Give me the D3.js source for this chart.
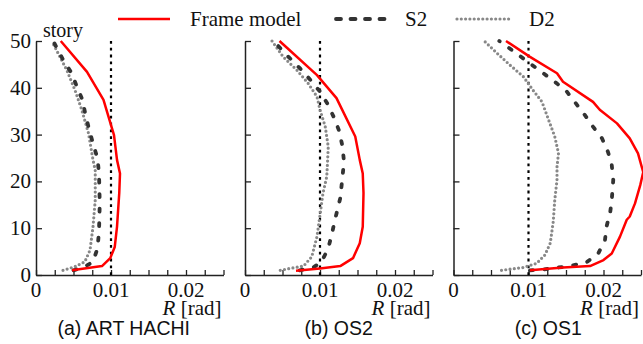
<!DOCTYPE html>
<html><head><meta charset="utf-8">
<script src="https://cdn.jsdelivr.net/npm/d3@7"></script>
<style>body{margin:0;background:#fff}</style>
</head><body>
<svg id="c" width="643" height="344"></svg>
<script>
// ---- data: [R (rad), story] ----
const panelTitles = ["(a) ART HACHI", "(b) OS2", "(c) OS1"];
const seriesNames = ["Frame model", "S2", "D2"];
const yTicks = [0, 10, 20, 30, 40, 50];
const xTickLabels = [0, 0.01, 0.02];
const limitR = 0.01;

const frameA = [[0.0048,1.0],[0.0088,1.9],[0.0099,3.6],[0.0105,6],[0.0108,10.3],[0.0111,17.5],[0.0112,21.7],[0.0108,24.6],[0.0104,29.9],[0.0090,37.4],[0.0068,43.4],[0.0033,50]];
const s2A = [[0.0050,1.0],[0.0063,1.6],[0.0076,2.8],[0.0082,5.7],[0.0084,9.3],[0.0085,15.3],[0.0084,21.7],[0.0082,24.9],[0.0076,28.1],[0.0071,31],[0.0066,34.2],[0.0062,37.4],[0.0055,40],[0.0048,43],[0.0036,46],[0.0023,50]];
const d2A = [[0.0036,1.0],[0.0052,1.8],[0.0065,2.8],[0.0072,5.3],[0.0076,10.3],[0.0079,16],[0.0079,22.4],[0.0076,24.6],[0.0070,30.3],[0.0061,35.3],[0.0052,39.5],[0.0041,43.8],[0.0032,46.6],[0.0021,50]];

const frameB = [[0.0068,0.9],[0.0100,1.4],[0.0127,1.9],[0.0144,3.6],[0.0153,6.8],[0.0157,10.3],[0.0158,17.5],[0.0157,21.7],[0.0153,24.6],[0.0147,29.6],[0.0122,37.8],[0.0096,42.7],[0.0046,50]];
const s2B = [[0.0073,1.0],[0.0091,1.6],[0.0102,2.8],[0.0111,5.7],[0.0116,8.9],[0.0120,11.8],[0.0127,16.4],[0.0130,21],[0.0132,24.2],[0.0130,27.4],[0.0126,30.6],[0.0119,33.5],[0.0111,36.3],[0.0100,39.2],[0.0087,41.7],[0.0073,44.2],[0.0058,46.6],[0.0038,50]];
const d2B = [[0.0047,1.0],[0.0060,1.4],[0.0078,1.9],[0.0089,3.9],[0.0096,8.2],[0.0100,12.8],[0.0104,17.5],[0.0109,21],[0.0110,24],[0.0111,27.4],[0.0107,31.7],[0.0100,35.3],[0.0096,38.1],[0.0084,41],[0.0069,43.8],[0.0051,46.6],[0.0036,50]];

const frameC = [[0.0102,1.0],[0.0146,1.6],[0.0182,1.9],[0.0200,3.2],[0.0211,4.6],[0.0222,8.2],[0.0231,11.8],[0.0235,12.5],[0.0242,15.3],[0.0249,19.2],[0.0253,22],[0.0251,23.1],[0.0246,26],[0.0235,29.2],[0.0218,32.4],[0.0195,35.3],[0.0186,37],[0.0146,41.3],[0.0138,43.1],[0.0102,46.6],[0.0070,50]];
const s2C = [[0.0102,1.0],[0.0120,1.2],[0.0155,1.9],[0.0178,2.8],[0.0193,4.6],[0.0202,7.5],[0.0204,10.3],[0.0209,13.5],[0.0211,16],[0.0213,20.3],[0.0211,23.5],[0.0206,26.3],[0.0198,29.2],[0.0186,31.7],[0.0175,34.2],[0.0151,39.2],[0.0135,41.3],[0.0102,45.2],[0.0075,48.4],[0.0061,50]];
const d2C = [[0.0064,1.0],[0.0093,1.6],[0.0111,2.5],[0.0122,4.3],[0.0129,6.8],[0.0133,11.4],[0.0135,16],[0.0138,20.3],[0.0138,23.1],[0.0140,26],[0.0135,29.6],[0.0126,33.5],[0.0118,37],[0.0106,39.5],[0.0093,42.4],[0.0075,44.9],[0.0058,47.4],[0.0041,50]];

const panels = [[frameA, s2A, d2A], [frameB, s2B, d2B], [frameC, s2C, d2C]];

// ---- layout / style ----
const lefts = [36, 245, 453.5];
const captionShift = [-6, 0, 1];
const W = 187.5, plotTop = 41, plotBottom = 275;
const styles = [
  {stroke:"#ff0000", width:2.5, dash:null, cap:"butt"},
  {stroke:"#333333", width:3.8, dash:"3,11.5", cap:"round"},
  {stroke:"#888888", width:3.2, dash:"0,4.3", cap:"round"}
];
const serif = "Liberation Serif";
const sans = "Liberation Sans";

const svg = d3.select("#c");
const y = d3.scaleLinear().domain([0, 50]).range([plotBottom, plotTop]);

panels.forEach((series, i) => {
  const x0 = lefts[i];
  const x = d3.scaleLinear().domain([0, 0.025]).range([x0, x0 + W]);
  const g = svg.append("g");

  const xAxis = d3.axisBottom(x).tickValues(d3.range(0, 0.02501, 0.0025)).tickSizeInner(-5).tickSizeOuter(0).tickFormat("");
  const gx = g.append("g").attr("transform", `translate(0,${plotBottom})`).call(xAxis);
  gx.select(".domain").attr("stroke", "#222").attr("stroke-width", 1.5);
  gx.selectAll(".tick line").attr("stroke", "#222").attr("stroke-width", 1.3);
  g.selectAll(".xl").data(xTickLabels).join("text")
    .attr("x", d => x(d)).attr("y", 297).attr("text-anchor", "middle")
    .attr("font-family", serif).attr("font-size", 21).attr("fill", "#111")
    .text(d => d === 0 ? "0" : d3.format(".2f")(d));

  const yAxis = d3.axisLeft(y).tickValues(yTicks).tickSizeInner(-6).tickSizeOuter(0).tickFormat("");
  const gy = g.append("g").attr("transform", `translate(${x0},0)`).call(yAxis);
  gy.select(".domain").attr("stroke", "#222").attr("stroke-width", 1.5);
  gy.selectAll(".tick line").attr("stroke", "#222").attr("stroke-width", 1.3);
  if (i === 0) {
    g.selectAll(".yl").data(yTicks).join("text")
      .attr("x", x0 - 5).attr("y", d => y(d) + 7).attr("text-anchor", "end")
      .attr("font-family", serif).attr("font-size", 21).attr("fill", "#111").text(d => d);
    g.append("text").attr("x", x0 + 7).attr("y", 37).attr("font-family", serif)
      .attr("font-size", 20).attr("fill", "#111").text("story");
  }

  g.append("line").attr("x1", x(limitR)).attr("x2", x(limitR)).attr("y1", y(50)).attr("y2", y(0))
    .attr("stroke", "#000").attr("stroke-width", 2.2).attr("stroke-dasharray", "2.8,4");

  const line = d3.line().x(d => x(d[0])).y(d => y(d[1]));
  [2, 1, 0].forEach(k => {
    const s = styles[k];
    g.append("path").datum(series[k]).attr("d", line).attr("fill", "none")
      .attr("stroke", s.stroke).attr("stroke-width", s.width)
      .attr("stroke-linecap", s.cap).attr("stroke-linejoin", "round")
      .attr("stroke-dasharray", s.dash);
  });

  const t = g.append("text").attr("x", x0 + W - 2).attr("y", 315).attr("text-anchor", "end")
    .attr("font-family", serif).attr("font-size", 21).attr("fill", "#111");
  t.append("tspan").attr("font-style", "italic").text("R");
  t.append("tspan").text(" [rad]");

  g.append("text").attr("x", x0 + W / 2 + captionShift[i]).attr("y", 335).attr("text-anchor", "middle")
    .attr("font-family", sans).attr("font-size", 19.5).attr("fill", "#111").text(panelTitles[i]);
});

const legX = [118, 333, 457];
const legY = 19;
seriesNames.forEach((name, k) => {
  const s = styles[k];
  svg.append("line").attr("x1", legX[k] + (k === 1 ? 3 : 0)).attr("x2", legX[k] + 52).attr("y1", legY).attr("y2", legY)
    .attr("stroke", s.stroke).attr("stroke-width", s.width).attr("stroke-linecap", s.cap)
    .attr("stroke-dasharray", k === 1 ? "5,9.5" : s.dash);
  svg.append("text").attr("x", legX[k] + 72).attr("y", legY + 7).attr("font-family", serif)
    .attr("font-size", 21).attr("fill", "#111").text(name);
});
</script>
</body></html>
